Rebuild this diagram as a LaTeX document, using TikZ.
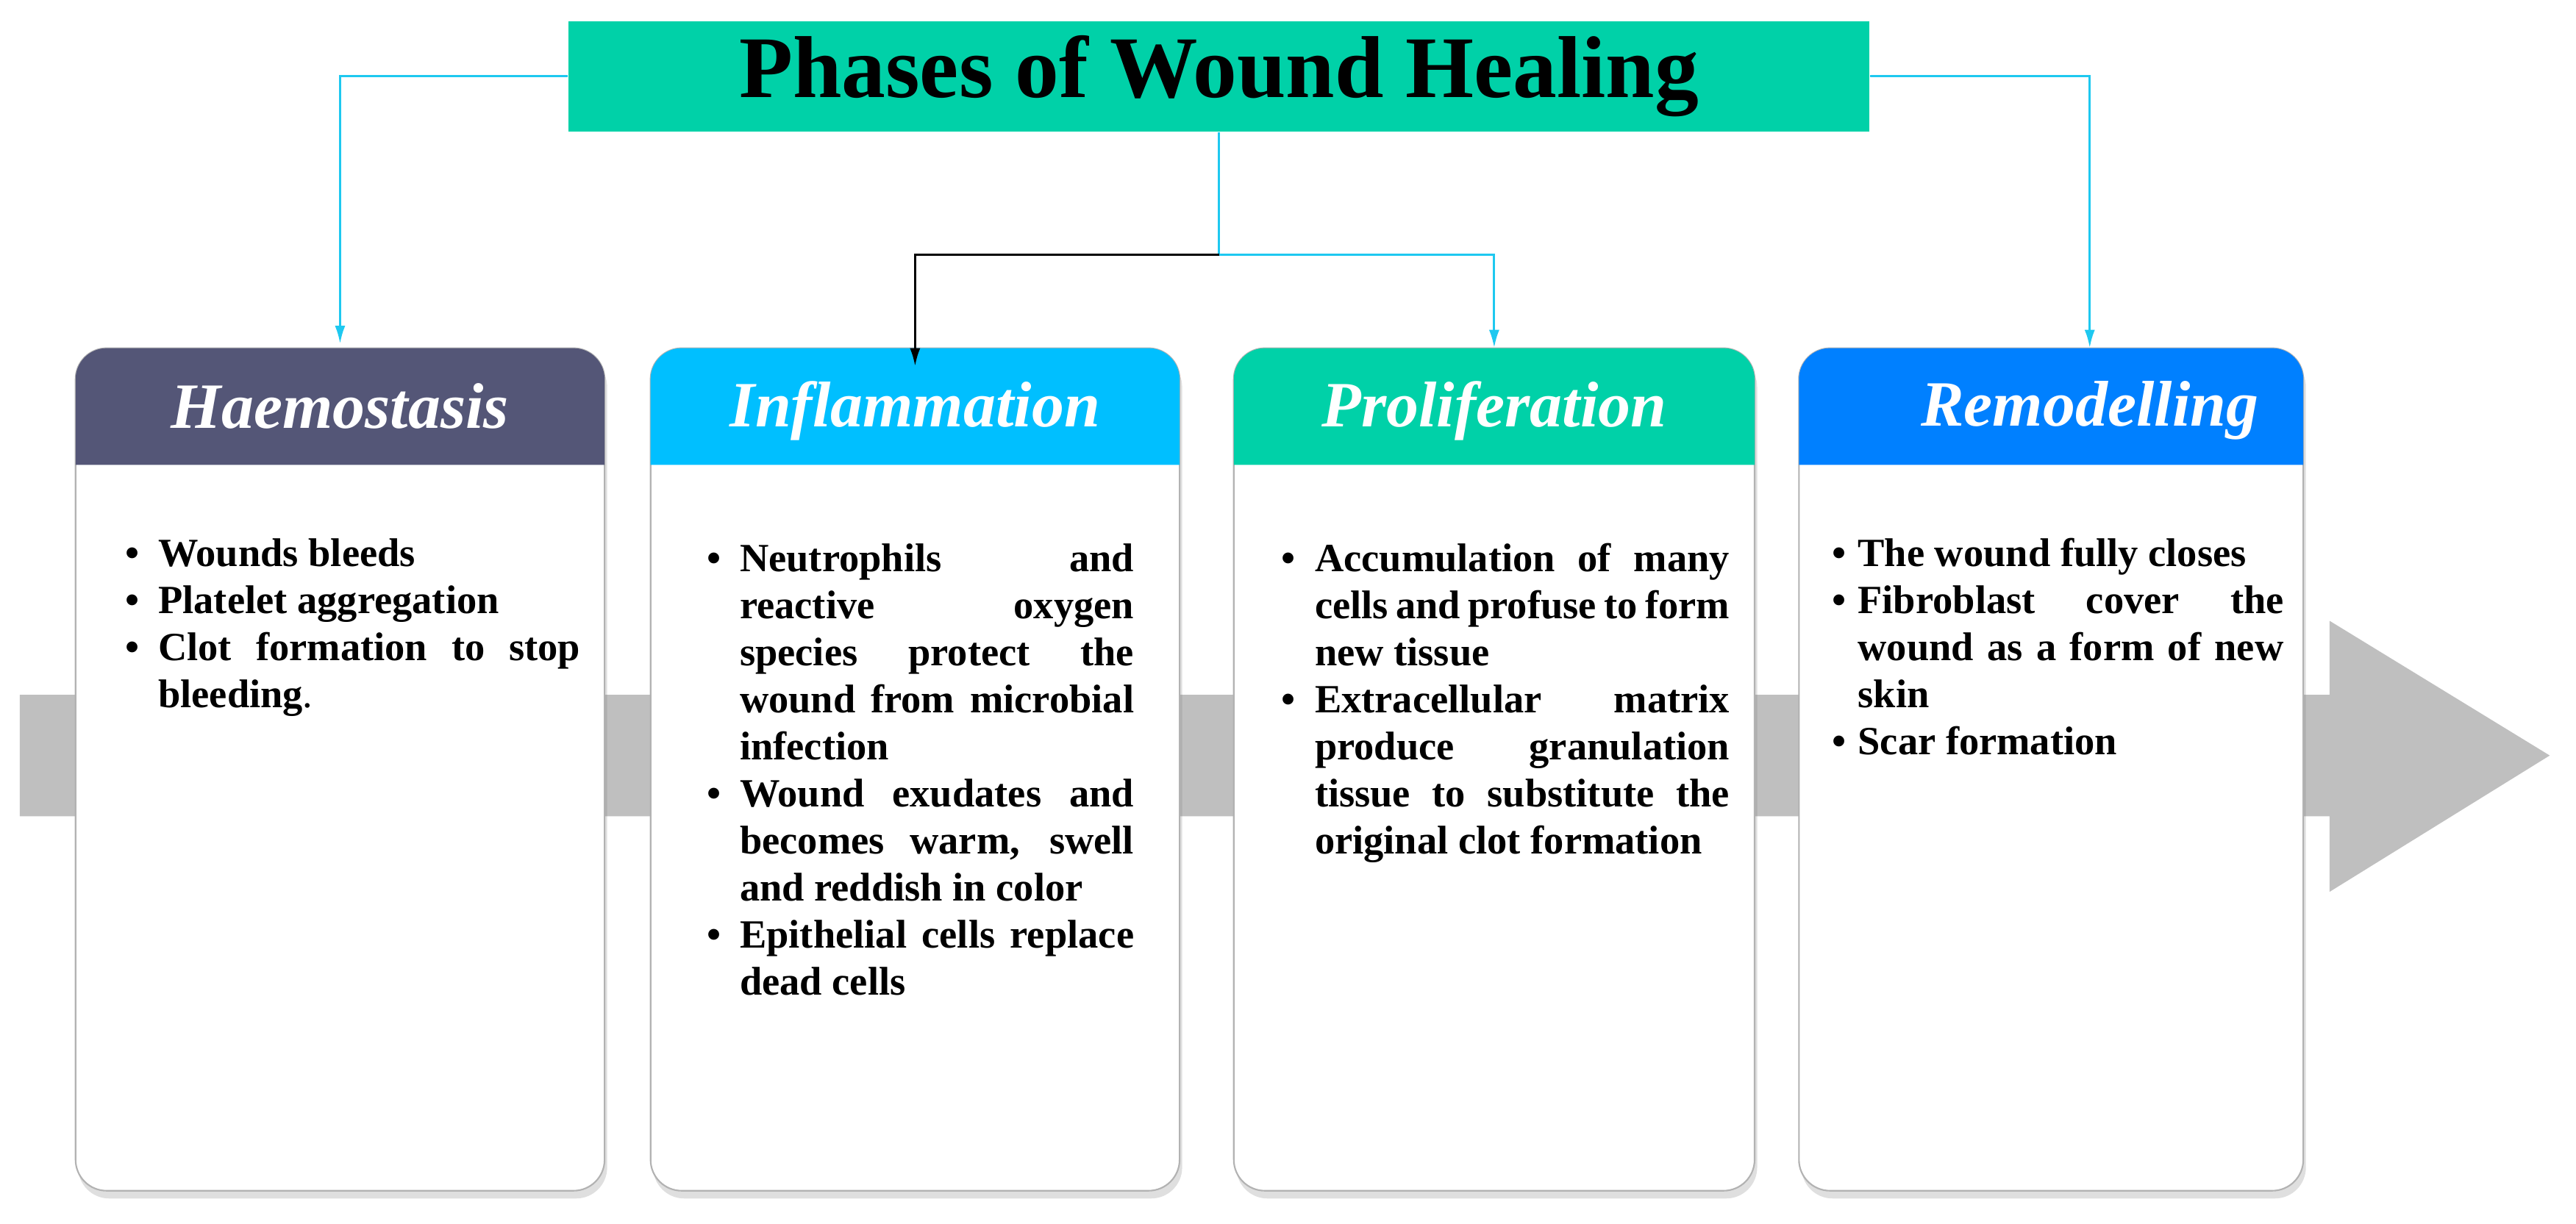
\documentclass[tikz,border=0pt]{standalone}
\usepackage{fontspec}
\setmainfont{Liberation Serif}
\usetikzlibrary{shadows,arrows.meta}
\definecolor{cH}{HTML}{545677}
\definecolor{cI}{HTML}{00BFFF}
\definecolor{cP}{HTML}{00D1A8}
\definecolor{cR}{HTML}{0080FF}
\definecolor{ln}{HTML}{1EC8F0}
\definecolor{gr}{HTML}{BFBFBF}
\newcommand{\myNoHy}{\hyphenpenalty=10000 \exhyphenpenalty=10000 \emergencystretch=3em\relax}
\begin{document}
\begin{tikzpicture}[x=0.02234cm,y=-0.02234cm,
  hdr/.style={minimum height=1.59cm,inner sep=0pt,font=\bfseries\itshape\fontsize{25}{30}\selectfont,text=white},
  bodyb/.style={draw=gray!60,line width=0.6pt,fill=white,rounded corners=12pt,drop shadow={opacity=0.25,shadow xshift=1pt,shadow yshift=-3pt}},
  txt/.style={anchor=north west,inner sep=0pt,font=\bfseries\fontsize{15.5}{18.2}\selectfont,align=justify},
  con/.style={color=ln,line width=0.9pt,-{Latex[length=7pt,width=4pt]}}]
\useasboundingbox (0,0) rectangle (1568,745);
% gray arrow
\fill[gr] (12,423) -- (1418,423) -- (1418,378) -- (1552,460) -- (1418,543) -- (1418,497) -- (12,497) -- cycle;
% title
\node[fill=cP,minimum width=17.69cm,minimum height=1.5cm,inner sep=0pt,font=\bfseries\fontsize{34}{38}\selectfont] (title) at (742,46.5) {Phases of Wound Healing};
% boxes
\foreach \n/\xa/\xb/\c in {1/46/368/cH,2/396/718/cI,3/751/1068/cP,4/1095/1402/cR}{
  \draw[bodyb] (\xa,212) rectangle (\xb,725);
  \fill[\c] (\xa,283) [rounded corners=12pt] -- (\xa,212) -- (\xb,212) [sharp corners] -- (\xb,283) -- cycle;
}
\node[hdr,minimum width=7.19cm] (h1) at (207,247.5) {Haemostasis};
\node[hdr,minimum width=7.19cm] (h2) at (557,250) {Inflammation};
\node[hdr,minimum width=7.08cm] (h3) at (909.5,250) {Proliferation};
\node[hdr,minimum width=5.8cm] (h4) at (1272,250) {Remodelling};
% connectors
\coordinate (m) at (742,155);
\draw[con] (title.west) -| ([yshift=0.05cm]h1.north);
\draw[con] (title.east) -| ([yshift=0.05cm]h4.north);
\draw[color=ln,line width=0.9pt] (title.south) -- (m);
\draw[con] (m) -| ([yshift=0.05cm]h3.north);
\draw[black,line width=0.9pt,-{Latex[length=7pt,width=4pt]}] (m) -| ([yshift=-0.2cm]h2.north);
% texts
\node[txt,text width=6.5cm] (t1) at (62,316) {\myNoHy\begin{list}{\textbullet}{\leftmargin=0.76cm\labelwidth=0.5cm\labelsep=0.26cm\itemsep=0pt\parsep=0pt\topsep=0pt}\myNoHy
\item Wounds bleeds
\item Platelet aggregation
\item Clot formation to stop bleeding{\mdseries .}
\end{list}};
\node[txt,text width=6.12cm] (t2) at (416,319) {\myNoHy\begin{list}{\textbullet}{\leftmargin=0.76cm\labelwidth=0.5cm\labelsep=0.26cm\itemsep=0pt\parsep=0pt\topsep=0pt}\myNoHy
\item Neutrophils and reactive oxygen species protect the wound from microbial infection
\item Wound exudates and becomes warm, swell and reddish in color
\item Epithelial cells replace dead cells
\end{list}};
\node[txt,text width=6.4cm] (t3) at (766,319) {\myNoHy\begin{list}{\textbullet}{\leftmargin=0.76cm\labelwidth=0.5cm\labelsep=0.26cm\itemsep=0pt\parsep=0pt\topsep=0pt}\myNoHy
\item Accumulation of many cells and profuse to form new tissue
\item Extracellular matrix produce granulation tissue to substitute the original clot formation
\end{list}};
\node[txt,text width=6.25cm] (t4) at (1110,316) {\myNoHy\begin{list}{\textbullet}{\leftmargin=0.46cm\labelwidth=0.3cm\labelsep=0.16cm\itemsep=0pt\parsep=0pt\topsep=0pt}\myNoHy
\item The wound fully closes
\item Fibroblast cover the wound as a form of new skin
\item Scar formation
\end{list}};
\end{tikzpicture}
\end{document}
